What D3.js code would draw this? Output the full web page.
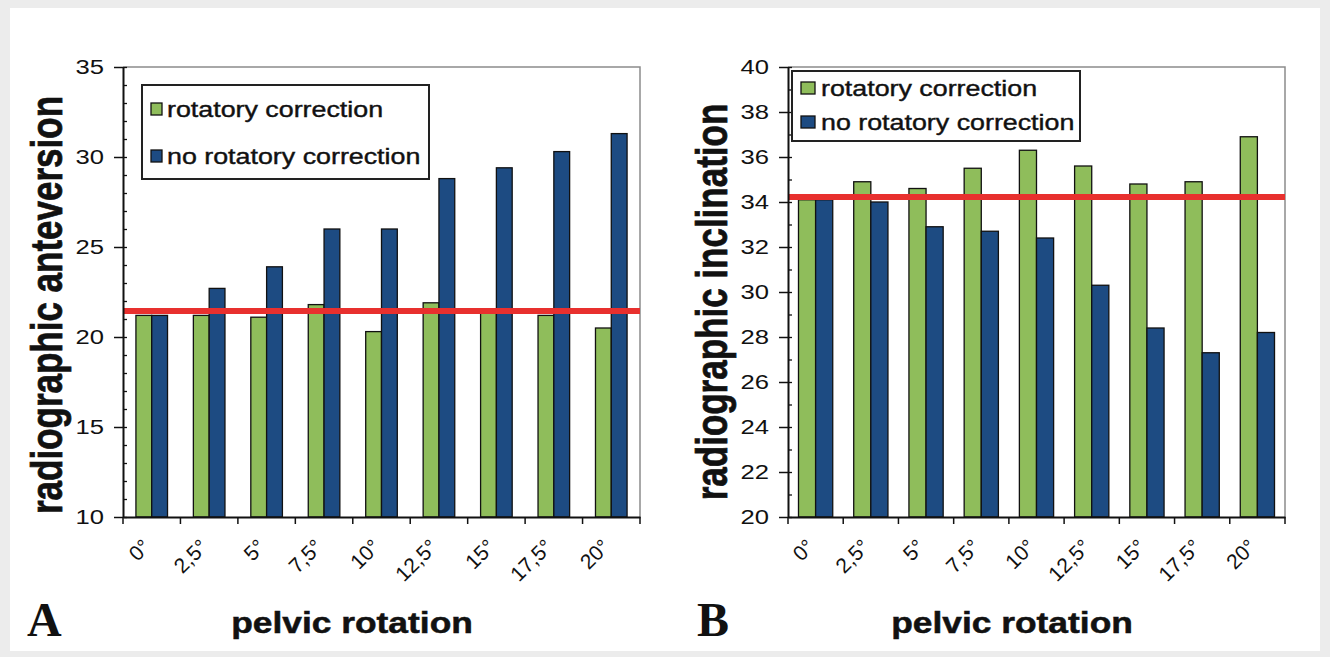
<!DOCTYPE html>
<html lang="en">

<head>
    <meta charset="UTF-8">
    <title>pelvic rotation</title>
    <script type="text/javascript" src="https://cdnjs.cloudflare.com/ajax/libs/d3/7.8.5/d3.min.js"></script>
    <style>
        body { margin: 0; background: #ececec; }
        text { font-family: "Liberation Sans", Arial, sans-serif; fill: #111; }
    </style>
</head>

<body>

    <div id="displayhere"></div>

    <script>
        // data
        var categories = ["0°", "2,5°", "5°", "7,5°", "10°", "12,5°", "15°", "17,5°", "20°"];
        var seriesNames = ["rotatory correction", "no rotatory correction"];

        var anteversionCorrected = [21.2, 21.2, 21.1, 21.8, 20.3, 21.9, 21.4, 21.2, 20.5];
        var anteversionUncorrected = [21.2, 22.7, 23.9, 26.0, 26.0, 28.8, 29.4, 30.3, 31.3];
        var anteversionReference = 21.45;
        var anteversionTicks = [10, 15, 20, 25, 30, 35];

        var inclinationCorrected = [34.1, 34.9, 34.6, 35.5, 36.3, 35.6, 34.8, 34.9, 36.9];
        var inclinationUncorrected = [34.1, 34.0, 32.9, 32.7, 32.4, 30.3, 28.4, 27.3, 28.2];
        var inclinationReference = 34.22;
        var inclinationTicks = [20, 22, 24, 26, 28, 30, 32, 34, 36, 38, 40];

        var w = 1330;
        var h = 657;
        var colors = ["#8fbd5b", "#1d4b82"];
        var sx = 1.22; // the figure is a bit stretched sideways

        var svg = d3.select('#displayhere')
            .append("svg")
            .attr("width", w)
            .attr("height", h);

        svg.append("rect")
            .attr("x", 10).attr("y", 8)
            .attr("width", 1310).attr("height", 643)
            .attr("fill", "white");

        drawPanel({
            left: 123, right: 640, top: 67, bottom: 517,
            ticks: anteversionTicks,
            values: [anteversionCorrected, anteversionUncorrected],
            reference: anteversionReference,
            padding: 0.45,
            title: "radiographic anteversion", titleX: 62, titleY: 305,
            letter: "A", letterX: 27,
            xTitleX: 352,
            legend: { x: 142, y: 85, w: 287, h: 94, rows: [117, 164], boxW: 11, textX: 167 }
        });

        drawPanel({
            left: 788, right: 1285, top: 67, bottom: 517,
            ticks: inclinationTicks,
            values: [inclinationCorrected, inclinationUncorrected],
            reference: inclinationReference,
            padding: 0.38,
            title: "radiographic inclination", titleX: 727, titleY: 302,
            letter: "B", letterX: 697,
            xTitleX: 1012,
            legend: { x: 792, y: 71, w: 288, h: 70, rows: [96, 130], boxW: 14, textX: 821 }
        });

        function drawPanel(p) {
            var g = svg.append("g");
            var lo = p.ticks[0], hi = p.ticks[p.ticks.length - 1];

            var y = d3.scaleLinear().domain([lo, hi]).range([p.bottom, p.top]);
            var x = d3.scaleBand().domain(categories)
                .range([p.left, p.right])
                .paddingInner(p.padding)
                .paddingOuter(p.padding / 2);
            var xs = d3.scaleBand().domain([0, 1]).range([0, x.bandwidth()]);

            // plot frame (top and right)
            g.append("path")
                .attr("d", "M" + p.left + "," + p.top + "H" + p.right + "V" + p.bottom)
                .attr("fill", "none")
                .attr("stroke", "#8c8c8c")
                .attr("stroke-width", 1.5);

            // bars
            seriesNames.forEach(function(name, s) {
                g.selectAll("rect.s" + s)
                    .data(p.values[s])
                    .enter()
                    .append("rect")
                    .attr("class", "s" + s)
                    .attr("x", function(d, i) { return x(categories[i]) + xs(s); })
                    .attr("y", function(d) { return y(d); })
                    .attr("width", xs.bandwidth())
                    .attr("height", function(d) { return y(lo) - y(d); })
                    .attr("fill", colors[s])
                    .attr("stroke", "#111")
                    .attr("stroke-width", 1.3);
            });

            // reference line
            g.append("line")
                .attr("x1", p.left).attr("x2", p.right)
                .attr("y1", y(p.reference)).attr("y2", y(p.reference))
                .attr("stroke", "#e8302e")
                .attr("stroke-width", 6);

            // y axis: majors outside, every unit inside
            var yAxis = g.append("g")
                .attr("transform", "translate(" + p.left + ",0)")
                .call(d3.axisLeft(y).tickValues(p.ticks).tickSize(9).tickSizeOuter(0));
            yAxis.select(".domain").attr("stroke", "#111").attr("stroke-width", 2);
            yAxis.selectAll(".tick line").attr("stroke", "#111").attr("stroke-width", 1.5);
            yAxis.selectAll(".tick text")
                .attr("x", -19 / sx)
                .attr("transform", "scale(" + sx + ",1)")
                .style("font-size", "21px");

            var yMinor = g.append("g")
                .attr("transform", "translate(" + p.left + ",0)")
                .call(d3.axisRight(y).tickValues(d3.range(lo, hi + 1, 1)).tickSize(4).tickFormat(""));
            yMinor.select(".domain").remove();
            yMinor.selectAll(".tick line").attr("stroke", "#111").attr("stroke-width", 1.3);

            // x axis
            var xAxis = g.append("g")
                .attr("transform", "translate(0," + p.bottom + ")")
                .call(d3.axisBottom(x).tickSize(0).tickSizeOuter(0));
            xAxis.select(".domain").attr("stroke", "#111").attr("stroke-width", 2);
            xAxis.selectAll(".tick text")
                .attr("y", null)
                .attr("dy", null)
                .attr("transform", "translate(0,31) rotate(-45)")
                .style("text-anchor", "end")
                .style("font-size", "21px");

            g.selectAll("line.xtick")
                .data(d3.range(categories.length + 1))
                .enter()
                .append("line")
                .attr("class", "xtick")
                .attr("x1", function(i) { return p.left + i * x.step(); })
                .attr("x2", function(i) { return p.left + i * x.step(); })
                .attr("y1", p.bottom)
                .attr("y2", p.bottom + 7)
                .attr("stroke", "#111")
                .attr("stroke-width", 1.5);

            // titles
            g.append("text")
                .attr("transform", "translate(" + p.titleX + "," + p.titleY + ") rotate(-90) scale(1,1.28)")
                .attr("text-anchor", "middle")
                .style("font-size", "35px")
                .style("font-weight", "bold")
                .style("stroke", "#111")
                .style("stroke-width", 0.6)
                .text(p.title);

            g.append("text")
                .attr("transform", "translate(" + p.xTitleX + ",633) scale(" + sx + ",1)")
                .attr("text-anchor", "middle")
                .style("font-size", "29px")
                .style("font-weight", "bold")
                .style("stroke", "#111")
                .style("stroke-width", 0.5)
                .text("pelvic rotation");

            g.append("text")
                .attr("x", p.letterX)
                .attr("y", 636)
                .style("font-family", "'Liberation Serif', 'Times New Roman', serif")
                .style("font-size", "48px")
                .style("font-weight", "bold")
                .text(p.letter);

            // legend
            var L = p.legend;
            g.append("rect")
                .attr("x", L.x).attr("y", L.y)
                .attr("width", L.w).attr("height", L.h)
                .attr("fill", "white")
                .attr("stroke", "#222")
                .attr("stroke-width", 2);

            seriesNames.forEach(function(name, s) {
                g.append("rect")
                    .attr("x", L.x + 9)
                    .attr("y", L.rows[s] - 14)
                    .attr("width", L.boxW)
                    .attr("height", 12)
                    .attr("fill", colors[s])
                    .attr("stroke", "#111")
                    .attr("stroke-width", 1.3);
                g.append("text")
                    .attr("transform", "translate(" + L.textX + "," + L.rows[s] + ") scale(" + sx + ",1)")
                    .style("font-size", "22px")
                    .style("stroke", "#111")
                    .style("stroke-width", 0.4)
                    .text(name);
            });
        }
    </script>

</body>

</html>
